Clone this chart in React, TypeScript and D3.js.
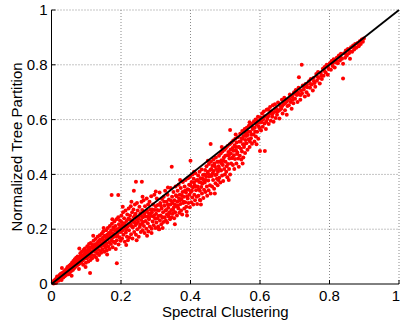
import * as d3 from "d3";

// [Spectral Clustering, Normalized Tree Partition]
const lowBand: [number, number][] = [
  [.004,.006],[.007,.012],[.009,.005],[.011,.016],[.012,.010],[.014,.019],[.015,.012],[.017,.022],[.018,.014],[.019,.025],[.013,.004],[.016,.027],
  [.021,.028],[.022,.018],[.024,.034],[.025,.021],[.027,.037],[.028,.026],[.029,.015],[.031,.040],[.032,.030],[.034,.024],[.035,.044],[.037,.036],[.038,.028],[.039,.050],
  [.041,.047],[.042,.033],[.044,.056],[.045,.041],[.046,.062],[.048,.050],[.049,.036],[.051,.067],[.052,.055],[.053,.043],[.055,.071],[.056,.060],[.058,.048],[.059,.078],
  [.061,.066],[.062,.052],[.063,.084],[.065,.072],[.066,.058],[.067,.090],[.069,.080],[.070,.064],[.071,.096],[.073,.084],[.074,.068],[.075,.100],[.077,.088],[.078,.072],[.079,.055],
  [.081,.098],[.082,.076],[.083,.112],[.085,.094],[.086,.080],[.087,.118],[.089,.104],[.090,.086],[.091,.070],[.092,.124],[.094,.108],[.095,.092],[.096,.130],[.098,.114],[.099,.078],[.099,.100],
  [.101,.120],[.102,.094],[.103,.138],[.104,.110],[.106,.082],[.107,.128],[.108,.146],[.109,.100],[.111,.122],[.112,.088],[.113,.150],[.115,.134],[.116,.106],[.117,.094],[.118,.142],[.119,.120],
  [.121,.158],[.122,.130],[.123,.104],[.125,.144],[.126,.118],[.127,.164],[.128,.098],[.129,.136],[.131,.150],[.132,.112],[.133,.172],[.134,.126],[.136,.156],[.137,.106],[.138,.142],[.139,.178],[.140,.120],
  [.141,.162],[.142,.136],[.143,.114],[.145,.184],[.146,.150],[.147,.126],[.148,.170],[.149,.192],[.151,.140],[.152,.118],[.153,.176],[.155,.158],[.156,.132],[.157,.196],[.158,.148],[.159,.122],[.160,.180],
  [.161,.164],[.162,.204],[.163,.138],[.165,.186],[.166,.152],[.167,.128],[.168,.212],[.169,.176],[.171,.146],[.172,.196],[.173,.160],[.174,.220],[.176,.134],[.177,.184],[.178,.206],[.179,.154],[.180,.172],
  [.181,.228],[.182,.196],[.183,.150],[.184,.212],[.186,.174],[.187,.236],[.188,.160],[.189,.200],[.191,.186],[.192,.244],[.193,.144],[.194,.218],[.196,.170],[.197,.232],[.198,.192],[.199,.158],[.200,.208],
  [.201,.250],[.202,.226],[.203,.166],[.205,.196],[.206,.262],[.207,.180],[.208,.214],[.209,.240],[.211,.154],[.212,.204],[.213,.268],[.214,.188],[.216,.230],[.217,.172],[.218,.254],[.219,.210],[.220,.160],
  [.221,.238],[.222,.276],[.223,.196],[.224,.170],[.226,.250],[.227,.218],[.228,.284],[.229,.182],[.231,.232],[.232,.262],[.233,.166],[.234,.206],[.236,.272],[.237,.244],[.238,.190],[.239,.226],[.240,.290],
  [.241,.214],[.242,.256],[.243,.180],[.245,.236],[.246,.296],[.247,.200],[.248,.268],[.249,.226],[.251,.172],[.252,.246],[.253,.282],[.254,.208],[.256,.258],[.257,.190],[.258,.234],[.259,.300],[.260,.220],
  [.261,.270],[.262,.196],[.263,.244],[.265,.306],[.266,.212],[.267,.256],[.268,.186],[.269,.284],[.271,.230],[.272,.264],[.273,.202],[.274,.312],[.276,.246],[.277,.222],[.278,.290],[.279,.192],[.280,.258],
  [.281,.236],[.282,.300],[.283,.210],[.285,.272],[.286,.248],[.287,.320],[.288,.202],[.289,.262],[.291,.228],[.292,.290],[.293,.246],[.294,.214],[.296,.326],[.297,.270],[.298,.238],[.299,.204],[.300,.284],
];

const lowFill: [number, number][] = [
  [.006,.002],[.010,.009],[.020,.012],[.023,.030],[.026,.016],[.033,.036],[.036,.030],[.040,.038],[.043,.052],[.047,.044],[.050,.058],[.054,.050],
  [.057,.066],[.060,.060],[.064,.078],[.068,.070],[.072,.078],[.076,.092],[.080,.086],[.084,.102],[.088,.094],[.093,.100],[.097,.116],[.100,.106],
  [.105,.118],[.110,.132],[.114,.118],[.120,.140],[.124,.126],[.130,.124],[.135,.140],[.139,.160],[.144,.148],[.150,.160],[.154,.142],[.158,.168],
  [.164,.170],[.170,.188],[.175,.170],[.181,.182],[.185,.196],[.190,.176],[.195,.204],[.200,.190],[.204,.214],[.210,.222],[.215,.200],[.221,.214],
  [.225,.236],[.230,.212],[.235,.226],[.240,.250],[.244,.220],[.250,.238],[.255,.216],[.260,.248],[.264,.226],[.270,.246],[.275,.268],[.280,.240],
  [.284,.256],[.290,.272],[.295,.250],
  [.030,.058],[.058,.030],[.080,.130],[.098,.062],[.120,.176],[.132,.088],[.150,.204],[.160,.108],[.175,.236],[.185,.128],[.205,.282],[.215,.142],
  [.230,.300],[.245,.160],[.262,.318],[.275,.176],[.288,.186],[.300,.338],
];

const midBand: [number, number][] = [
  [.301,.256],[.302,.224],[.303,.312],[.305,.240],[.306,.288],[.307,.210],[.309,.200],[.309,.268],[.311,.334],[.312,.232],[.313,.296],[.314,.250],[.316,.218],[.317,.276],[.318,.310],[.319,.242],
  [.321,.262],[.322,.226],[.323,.318],[.325,.286],[.326,.244],[.327,.340],[.328,.268],[.329,.232],[.331,.300],[.332,.254],[.333,.224],[.334,.326],[.336,.278],[.337,.246],[.338,.308],[.339,.262],
  [.341,.236],[.342,.290],[.343,.350],[.345,.270],[.346,.244],[.347,.318],[.348,.296],[.349,.256],[.351,.336],[.352,.280],[.353,.240],[.354,.306],[.356,.262],[.357,.356],[.358,.324],[.359,.284],
  [.361,.250],[.362,.300],[.363,.340],[.365,.276],[.366,.362],[.367,.312],[.368,.260],[.369,.326],[.371,.292],[.372,.350],[.373,.268],[.374,.310],[.376,.254],[.377,.336],[.378,.372],[.379,.296],
  [.381,.318],[.382,.276],[.383,.356],[.385,.298],[.386,.380],[.387,.334],[.388,.282],[.389,.264],[.391,.346],[.392,.312],[.393,.386],[.394,.296],[.396,.362],[.397,.326],[.398,.280],[.399,.392],
  [.401,.336],[.402,.298],[.403,.372],[.405,.316],[.406,.400],[.407,.352],[.408,.290],[.409,.384],[.411,.326],[.412,.360],[.413,.306],[.414,.404],[.416,.342],[.417,.378],[.418,.318],[.419,.292],
  [.421,.356],[.422,.396],[.423,.322],[.425,.372],[.426,.410],[.427,.340],[.428,.306],[.429,.386],[.431,.354],[.432,.418],[.433,.330],[.434,.366],[.436,.398],[.437,.314],[.438,.380],[.439,.344],
  [.441,.370],[.442,.416],[.443,.336],[.445,.392],[.446,.430],[.447,.356],[.448,.322],[.449,.404],[.451,.378],[.452,.342],[.453,.438],[.454,.392],[.456,.360],[.457,.416],[.458,.330],[.459,.446],
  [.461,.394],[.462,.356],[.463,.432],[.465,.380],[.466,.454],[.467,.412],[.468,.348],[.469,.440],[.471,.398],[.472,.368],[.473,.462],[.474,.420],[.476,.384],[.477,.446],[.478,.360],[.479,.410],
  [.481,.430],[.482,.468],[.483,.388],[.485,.446],[.486,.370],[.487,.476],[.488,.414],[.489,.452],[.491,.396],[.492,.484],[.493,.434],[.494,.376],[.496,.462],[.497,.420],[.498,.490],[.499,.400],
  [.501,.446],[.502,.496],[.503,.410],[.505,.470],[.506,.390],[.507,.504],[.508,.438],[.509,.482],[.511,.420],[.512,.458],[.513,.510],[.514,.400],[.516,.476],[.517,.440],[.518,.516],[.519,.460],
  [.521,.496],[.522,.434],[.523,.524],[.525,.470],[.526,.420],[.527,.506],[.528,.456],[.529,.530],[.531,.488],[.532,.440],[.533,.516],[.534,.474],[.536,.536],[.537,.458],[.538,.500],[.539,.428],
  [.541,.520],[.542,.468],[.543,.548],[.545,.494],[.546,.454],[.547,.532],[.548,.484],[.549,.558],[.551,.510],[.552,.462],[.553,.540],[.554,.500],[.556,.566],[.557,.478],[.558,.526],[.559,.550],
  [.561,.514],[.562,.570],[.564,.490],[.565,.544],[.567,.528],[.568,.578],[.570,.500],[.572,.556],[.574,.532],[.575,.584],[.577,.512],[.579,.566],
  [.581,.546],[.582,.592],[.584,.520],[.585,.570],[.587,.600],[.588,.538],[.590,.582],[.592,.556],[.594,.610],[.595,.530],[.597,.590],[.599,.568],
];

const midFill: [number, number][] = [
  [.304,.270],[.308,.248],[.315,.286],[.320,.244],[.324,.300],[.330,.270],[.335,.290],[.340,.258],[.344,.304],[.350,.270],[.355,.290],[.360,.320],
  [.364,.286],[.370,.306],[.375,.324],[.380,.300],[.384,.340],[.390,.320],[.395,.344],[.400,.360],[.404,.340],[.410,.370],[.415,.356],[.420,.380],
  [.424,.346],[.430,.370],[.435,.384],[.440,.400],[.444,.380],[.450,.410],[.455,.398],[.460,.420],[.464,.404],[.470,.430],[.475,.400],[.480,.446],
  [.484,.420],[.490,.440],[.495,.450],[.500,.468],[.504,.430],[.510,.470],[.515,.490],[.520,.460],[.524,.486],[.530,.500],[.535,.480],[.540,.500],
  [.544,.520],[.550,.530],[.555,.510],[.560,.540],[.566,.556],[.571,.520],[.576,.546],[.580,.570],[.586,.556],[.591,.598],[.596,.576],
  [.320,.204],[.335,.352],[.355,.218],[.370,.380],[.390,.250],[.410,.410],[.430,.290],[.450,.450],[.470,.330],[.490,.500],[.510,.380],[.530,.546],
  [.550,.440],[.570,.590],[.590,.510],
];

const highBand: [number, number][] = [
  [.601,.608],[.603,.560],[.604,.590],[.606,.622],[.608,.574],[.609,.600],[.611,.630],[.613,.586],[.615,.612],[.617,.566],[.619,.636],
  [.621,.602],[.623,.638],[.625,.584],[.627,.620],[.629,.646],[.631,.596],[.633,.630],[.635,.610],[.637,.652],[.639,.592],
  [.641,.628],[.643,.656],[.645,.606],[.647,.640],[.649,.618],[.652,.662],[.654,.632],[.656,.604],[.658,.650],
  [.661,.640],[.663,.672],[.665,.622],[.668,.656],[.670,.680],[.672,.634],[.675,.664],[.677,.618],[.679,.650],
  [.681,.676],[.683,.652],[.686,.692],[.688,.664],[.691,.640],[.693,.684],[.696,.660],[.698,.700],
  [.701,.676],[.703,.708],[.706,.690],[.708,.664],[.711,.716],[.713,.692],[.716,.672],[.718,.706],
  [.721,.696],[.723,.724],[.726,.710],[.729,.684],[.731,.730],[.734,.700],[.736,.718],[.739,.690],
  [.741,.740],[.744,.716],[.746,.748],[.749,.728],[.752,.706],[.754,.752],[.757,.734],[.759,.720],
  [.762,.766],[.764,.742],[.767,.774],[.769,.752],[.772,.732],[.775,.770],[.778,.748],
  [.781,.786],[.783,.760],[.786,.792],[.789,.772],[.792,.800],[.795,.764],[.798,.784],
  [.801,.806],[.804,.782],[.806,.814],[.809,.796],[.812,.820],[.815,.790],[.818,.808],
  [.821,.826],[.824,.806],[.827,.834],[.830,.816],[.833,.840],[.836,.822],[.839,.804],
  [.842,.842],[.845,.826],[.847,.852],[.850,.834],[.853,.858],[.856,.842],[.859,.822],
  [.862,.864],[.865,.848],[.868,.870],[.871,.856],[.874,.876],[.877,.862],
  [.881,.880],[.884,.868],[.887,.886],[.890,.876],[.893,.892],[.896,.884],[.899,.896],
];

const highFill: [number, number][] = [
  [.605,.598],[.612,.610],[.618,.592],[.624,.612],[.630,.630],[.636,.620],[.644,.640],[.650,.630],[.657,.636],[.664,.650],[.671,.660],
  [.678,.668],[.685,.676],[.694,.672],[.700,.694],[.709,.700],[.717,.690],[.727,.720],[.735,.728],[.745,.730],[.755,.740],[.765,.756],
  [.776,.760],[.785,.778],[.796,.790],[.808,.804],[.820,.812],[.832,.828],[.846,.840],[.858,.850],[.870,.866],[.886,.876],[.895,.892],
];

const outliers: [number, number][] = [
  [.111,.040],[.188,.076],[.173,.325],[.192,.325],[.237,.340],[.243,.373],[.260,.373],[.310,.200],
  [.346,.428],[.400,.450],[.427,.307],[.458,.511],[.480,.380],[.514,.562],[.600,.485],[.614,.485],
  [.712,.755],[.720,.800],[.839,.750],
];

const ticks = [0, 0.2, 0.4, 0.6, 0.8, 1];
const xTitle = "Spectral Clustering";
const yTitle = "Normalized Tree Partition";

const W = 400;
const H = 320;
const M = { left: 51.5, right: 1, top: 10, bottom: 36 };
const FONT = "'Liberation Sans', Arial, Helvetica, sans-serif";

export default function App() {
  const x = d3.scaleLinear().domain([0, 1]).range([M.left, W - M.right]);
  const y = d3.scaleLinear().domain([0, 1]).range([H - M.bottom, M.top]);
  const points = [...lowBand, ...lowFill, ...midBand, ...midFill, ...highBand, ...highFill, ...outliers];
  const diag = d3.line<number>().x((d) => x(d)).y((d) => y(d))([0, 1]) || "";
  const fmt = (v: number) => (v === 0 || v === 1 ? String(v) : v.toFixed(1));

  return (
    <svg width={W} height={H} style={{ position: "absolute", left: 0, top: 0, background: "#fff" }}>
      {/* dotted grid */}
      <g stroke="#8a8a8a" strokeWidth={1} strokeDasharray="1,2">
        {ticks.slice(1).map((t) => (
          <line key={"gx" + t} x1={x(t)} x2={x(t)} y1={y(0)} y2={y(1)} />
        ))}
        {ticks.slice(1).map((t) => (
          <line key={"gy" + t} x1={x(0)} x2={x(1)} y1={y(t)} y2={y(t)} />
        ))}
      </g>

      <g fill="#ff0000">
        {points.map((p, i) => (
          <circle key={i} cx={x(p[0])} cy={y(p[1])} r={2} />
        ))}
      </g>

      <path d={diag} stroke="#000" strokeWidth={1.8} fill="none" />

      {/* axes */}
      <g stroke="#000" strokeWidth={1}>
        <line x1={x(0)} x2={x(1)} y1={y(0)} y2={y(0)} />
        <line x1={x(0)} x2={x(0)} y1={y(0)} y2={y(1)} />
        {ticks.map((t) => (
          <line key={"tx" + t} x1={x(t)} x2={x(t)} y1={y(0)} y2={y(0) - 4} />
        ))}
        {ticks.map((t) => (
          <line key={"ty" + t} x1={x(0)} x2={x(0) + 4} y1={y(t)} y2={y(t)} />
        ))}
      </g>

      <g fontFamily={FONT} fontSize={15} fill="#000">
        {ticks.map((t) => (
          <text key={"lx" + t} x={t === 1 ? x(t) - 3 : x(t)} y={y(0) + 17} textAnchor="middle">
            {fmt(t)}
          </text>
        ))}
        {ticks.map((t) => (
          <text key={"ly" + t} x={x(0) - 4} y={y(t)} dy="0.35em" textAnchor="end">
            {fmt(t)}
          </text>
        ))}
        <text x={(x(0) + x(1)) / 2} y={H - 3} textAnchor="middle">
          {xTitle}
        </text>
        <text transform={`translate(22,${(y(0) + y(1)) / 2}) rotate(-90)`} textAnchor="middle">
          {yTitle}
        </text>
      </g>
    </svg>
  );
}
